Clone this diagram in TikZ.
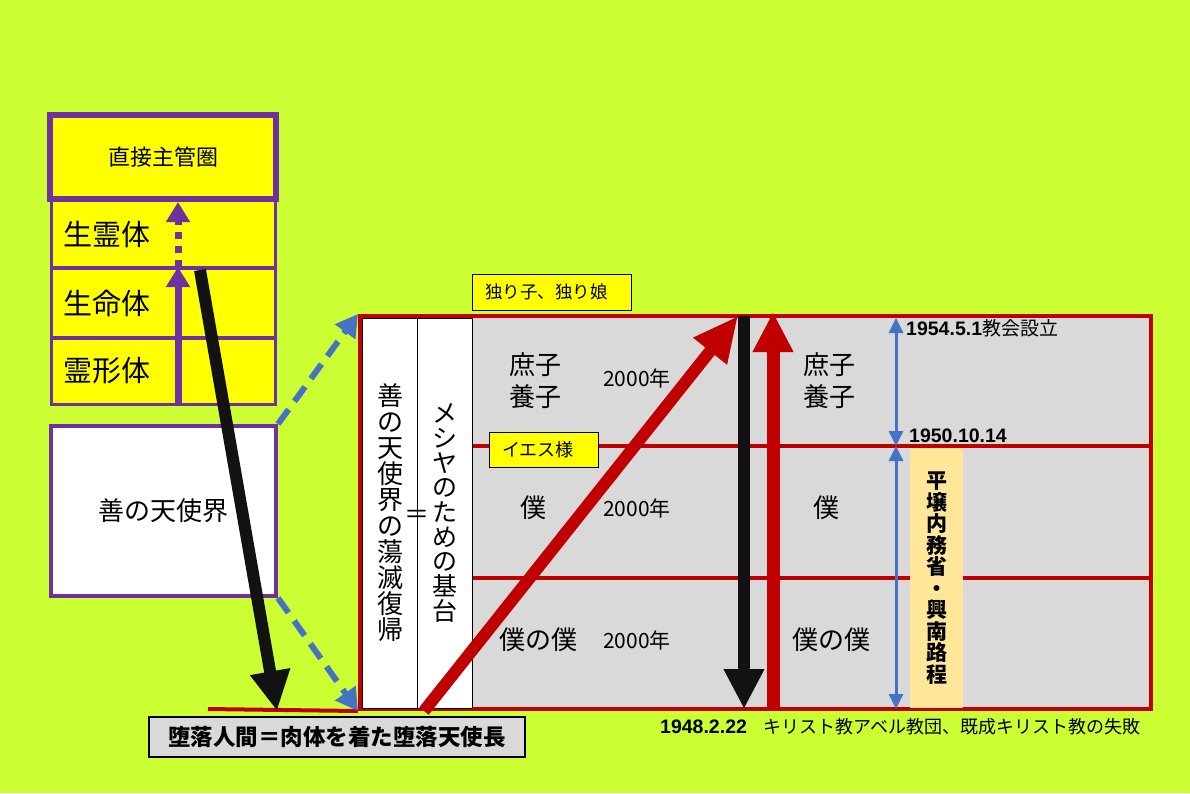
\documentclass[tikz,border=0pt]{standalone}
\usepackage{fontspec}
\setmainfont{Noto Sans CJK JP}
\newfontfamily\latfont{Liberation Sans}
\usepackage{tikz}
\usetikzlibrary{arrows.meta, positioning}

\definecolor{limebg}{RGB}{204,255,51}
\definecolor{purplebd}{RGB}{112,48,160}
\definecolor{yel}{RGB}{255,255,0}
\definecolor{redbd}{RGB}{192,0,0}
\definecolor{graybox}{RGB}{217,217,217}
\definecolor{bluearr}{RGB}{68,114,196}
\definecolor{peach}{RGB}{255,230,153}

\newcommand\fsz[2]{\fontsize{#1}{#2}\selectfont}

\begin{document}
\begin{tikzpicture}[
  x=1pt, y=-1pt,
  layer/.style={rectangle, draw=purplebd, line width=3pt, fill=yel, minimum width=224pt, text width=200pt, inner xsep=12pt, align=left, font=\fsz{29}{32}},
  band/.style={rectangle, draw=redbd, line width=4pt, fill=graybox, minimum width=791pt},
  vbox/.style={rectangle, draw=black, line width=1pt, fill=white, minimum width=55pt, minimum height=390pt, inner sep=0pt, align=center},
  tag/.style={rectangle, draw=black, line width=1pt, fill=yel, align=left, inner xsep=13pt},
  lbl/.style={align=center, inner sep=0pt, font=\fsz{26}{32}},
  yr/.style={inner sep=0pt, font=\fsz{21}{24}},
  date/.style={anchor=west, inner sep=0pt, font=\latfont\bfseries\fsz{19.5}{22}},
  bigarrow/.style={line width=12pt, -{Triangle[length=40pt, width=38pt]}},
  bispan/.style={draw=bluearr, line width=3pt, {Triangle[length=15pt, width=14pt]}-{Triangle[length=15pt, width=14pt]}},
  dashline/.style={draw=bluearr, line width=6pt, dash pattern=on 18pt off 10pt, -{Triangle[length=22pt, width=24pt]}}
  ]

\useasboundingbox (0,0) rectangle (1190,793);
\fill[limebg] (0,0) rectangle (1190,793);

\node[layer, minimum height=67pt] (seirei) at (163.5,234) {生霊体};
\node[layer, minimum height=69pt] (seimei) at (163.5,303) {生命体};
\node[layer, minimum height=66pt] (reikei) at (163.5,371) {霊形体};
\node[rectangle, draw=purplebd, line width=6pt, fill=yel, minimum width=226pt, minimum height=84pt, font=\fsz{22}{26}] (kansyu) at (163,157) {直接主管圏};

\node[rectangle, draw=purplebd, line width=4pt, fill=white, minimum width=225pt, minimum height=170pt, font=\fsz{26}{30}] (zenkai) at (163.5,511) {善の天使界};

\node[band, minimum height=130pt] (band1) at (755.5,381) {};
\node[band, minimum height=132pt] (band2) at (755.5,512) {};
\node[band, minimum height=131pt] (band3) at (755.5,643.5) {};

\coordinate (baseleft) at (208,709);
\draw[redbd, line width=4pt] (baseleft) -- (band3.south west);

\node[vbox, font=\fsz{26}{26}] (dangen) at (390,513) {善\\の\\天\\使\\界\\の\\蕩\\滅\\復\\帰};
\node[vbox, font=\fsz{25}{24.7}, right=-1pt of dangen] (kidai) {メ\\シ\\ヤ\\の\\た\\め\\の\\基\\台};
\node[font=\fsz{25}{25}, inner sep=0pt] (eq) at (417,517) {＝};

\node[tag, text width=133pt, minimum height=36pt, font=\fsz{17.5}{20}] (hitori) at (551.5,292) {独り子、独り娘};
\node[tag, text width=83pt, minimum height=35pt, font=\fsz{18}{20}] (iesu) at (543.5,449.5) {イエス様};

\node[lbl] (shoshiL) at (535,381) {庶子\\養子};
\node[yr] (yearA) at (637,378) {2000年};
\node[lbl] (bokuL) at (533,508) {僕};
\node[yr] (yearB) at (637,508) {2000年};
\node[lbl] (bbL) at (538,640) {僕の僕};
\node[yr] (yearC) at (637,640) {2000年};
\node[lbl] (shoshiR) at (829,381) {庶子\\養子};
\node[lbl] (bokuR) at (826,508) {僕};
\node[lbl] (bbR) at (831,640) {僕の僕};

\node[rectangle, fill=peach, minimum width=53pt, minimum height=260pt, inner sep=0pt, align=center, font=\bfseries\fsz{21}{21.5}] (heijo) at (936.5,578) {平\\壌\\内\\務\\省\\・\\興\\南\\路\\程};

\node[date] (d1954) at (906,328) {1954.5.1{\normalfont\fsz{19}{22}教会設立}};
\node[date] (d1950) at (909,436) {1950.10.14};
\node[date] (d1948) at (660,727) {1948.2.22};
\node[anchor=west, inner sep=0pt, font=\fsz{18}{22}] (shippai) at (763,727) {キリスト教アベル教団、既成キリスト教の失敗};

\node[rectangle, draw=black, line width=1.5pt, fill=graybox, minimum width=376pt, minimum height=40pt, font=\bfseries\fsz{22.5}{26}] (daraku) at (337,737) {堕落人間＝肉体を着た堕落天使長};

\coordinate (pbase) at (178,403);
\draw[purplebd, line width=7pt, -{Triangle[length=20pt, width=23pt]}] (pbase) -- (seimei.north -| pbase);
\draw[purplebd, line width=7pt, dash pattern=on 7pt off 7pt, -{Triangle[length=20pt, width=23pt]}] (seimei.north -| pbase) -- (kansyu.south -| pbase);

\draw[dashline] (zenkai.north east) -- (band1.north west);
\draw[dashline] (zenkai.south east) -- (band3.south west);

\coordinate (fallstart) at (200,270);
\coordinate (fallend) at (277,711);
\draw[bigarrow, black!93] (fallstart) -- (fallend);

\coordinate (riseA) at (424,711);
\coordinate (riseB) at (738,316);
\draw[bigarrow, redbd, -{Triangle[length=45pt, width=40pt]}] (riseA) -- (riseB);

\coordinate (dropT) at (744,316);
\coordinate (dropB) at (744,709);
\draw[bigarrow, black!93] (dropT) -- (dropB);

\coordinate (upB) at (773,707);
\coordinate (upT) at (773,312);
\draw[bigarrow, redbd, line width=13pt] (upB) -- (upT);

\coordinate (sp1) at (896,318);
\coordinate (sp2) at (896,446);
\coordinate (sp3) at (896,709);
\draw[bispan] (sp1) -- (sp2);
\draw[bispan] (sp2) -- (sp3);

\end{tikzpicture}
\end{document}
